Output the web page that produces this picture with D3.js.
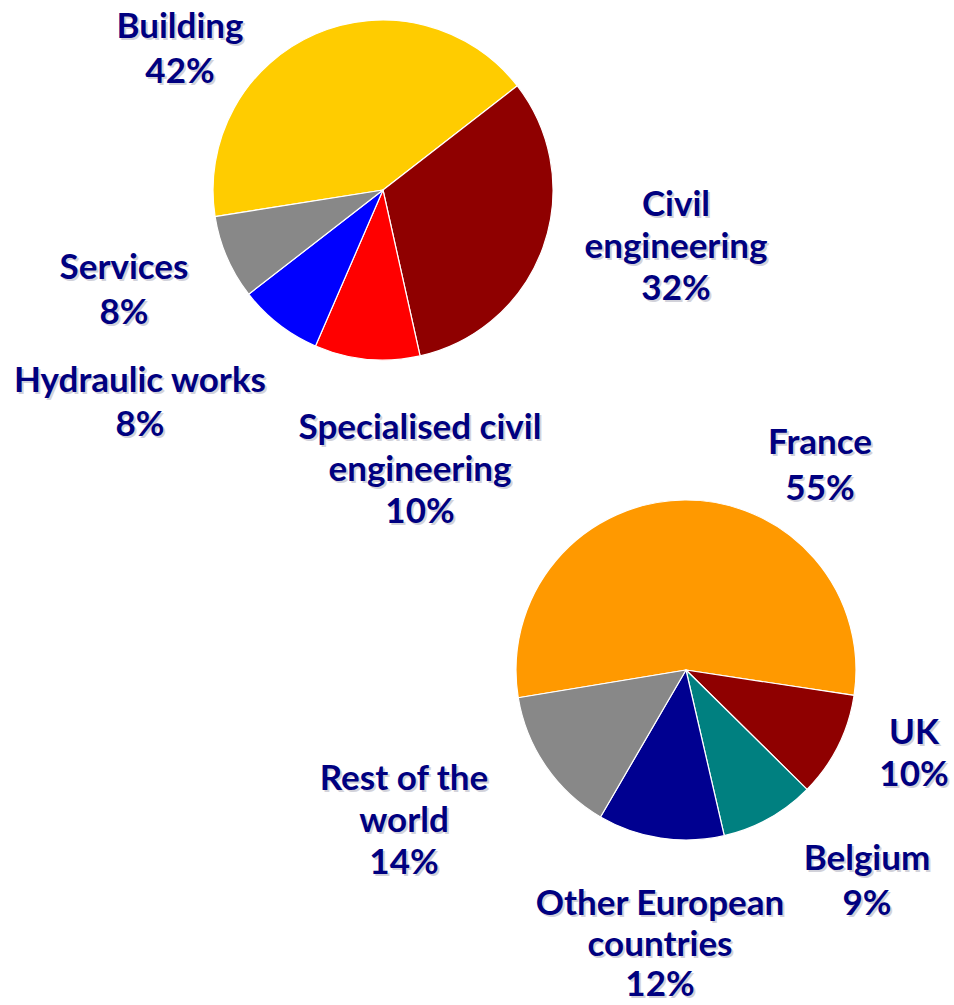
<!DOCTYPE html>
<html>
<head>
<meta charset="utf-8">
<script src="https://cdn.jsdelivr.net/npm/d3@7"></script>
<style>
  html, body { margin: 0; padding: 0; background: #fff; }
  svg { display: block; }
  text { font-family: Lato, "Open Sans", sans-serif; font-weight: 700; }
</style>
</head>
<body>
<svg id="chart" width="954" height="1005"></svg>
<script>
// ---- data ----
const activityCategories = ["Building", "Civil engineering", "Specialised civil engineering", "Hydraulic works", "Services"];
const activityValues = [42, 32, 10, 8, 8];
const activityLabelLines = [["Building"], ["Civil", "engineering"], ["Specialised civil", "engineering"], ["Hydraulic works"], ["Services"]];

const regionCategories = ["France", "UK", "Belgium", "Other European countries", "Rest of the world"];
const regionValues = [55, 10, 9, 12, 14];
const regionLabelLines = [["France"], ["UK"], ["Belgium"], ["Other European", "countries"], ["Rest of the", "world"]];

// ---- styles / layout ----
const activityColors = ["#FFCC00", "#8F0000", "#FF0000", "#0000FF", "#888888"];
const regionColors = ["#FF9900", "#8F0000", "#008080", "#000090", "#888888"];

const layout = {
  activity: { cx: 383, cy: 190, r: 170, start: -99 * Math.PI / 180,
    labels: [[180, 38, 45], [676, 216, 42], [420, 439, 42], [140, 392, 44], [124, 279, 45]] },
  region: { cx: 686, cy: 670, r: 170, start: -99.4 * Math.PI / 180,
    labels: [[820, 454, 46], [914, 744, 42], [867, 870, 45], [660, 915, 40.5], [404, 790, 42]] }
};
const fontSize = 35;

const svg = d3.select("#chart");

function drawPie(cats, vals, lines, colors, cfg) {
  const pie = d3.pie().sort(null).value(d => d)
    .startAngle(cfg.start).endAngle(cfg.start + 2 * Math.PI);
  const arcs = pie(vals);
  const arc = d3.arc().innerRadius(0).outerRadius(cfg.r);
  const g = svg.append("g").attr("transform", `translate(${cfg.cx},${cfg.cy})`);
  g.selectAll("path").data(arcs).join("path")
    .attr("d", arc)
    .attr("fill", (d, i) => colors[i])
    .attr("stroke", "#ffffff")
    .attr("stroke-width", 1.2)
    .attr("stroke-linejoin", "round");

  const lg = svg.append("g");
  cats.forEach((c, i) => {
    const textLines = lines[i].concat([vals[i] + "%"]);
    const [x, y, gap] = cfg.labels[i];
    const block = lg.append("g").attr("class", "label");
    // soft shadow
    const sh = block.append("text")
      .attr("x", x + 2).attr("y", y + 2)
      .attr("text-anchor", "middle")
      .attr("font-size", fontSize)
      .attr("fill", "#d2d2da");
    textLines.forEach((t, k) => sh.append("tspan").attr("x", x + 2).attr("y", y + 2 + k * gap).text(t));
    const tx = block.append("text")
      .attr("x", x).attr("y", y)
      .attr("text-anchor", "middle")
      .attr("font-size", fontSize)
      .attr("fill", "#000080");
    textLines.forEach((t, k) => tx.append("tspan").attr("x", x).attr("y", y + k * gap).text(t));
  });
}

drawPie(activityCategories, activityValues, activityLabelLines, activityColors, layout.activity);
drawPie(regionCategories, regionValues, regionLabelLines, regionColors, layout.region);
</script>
</body>
</html>
